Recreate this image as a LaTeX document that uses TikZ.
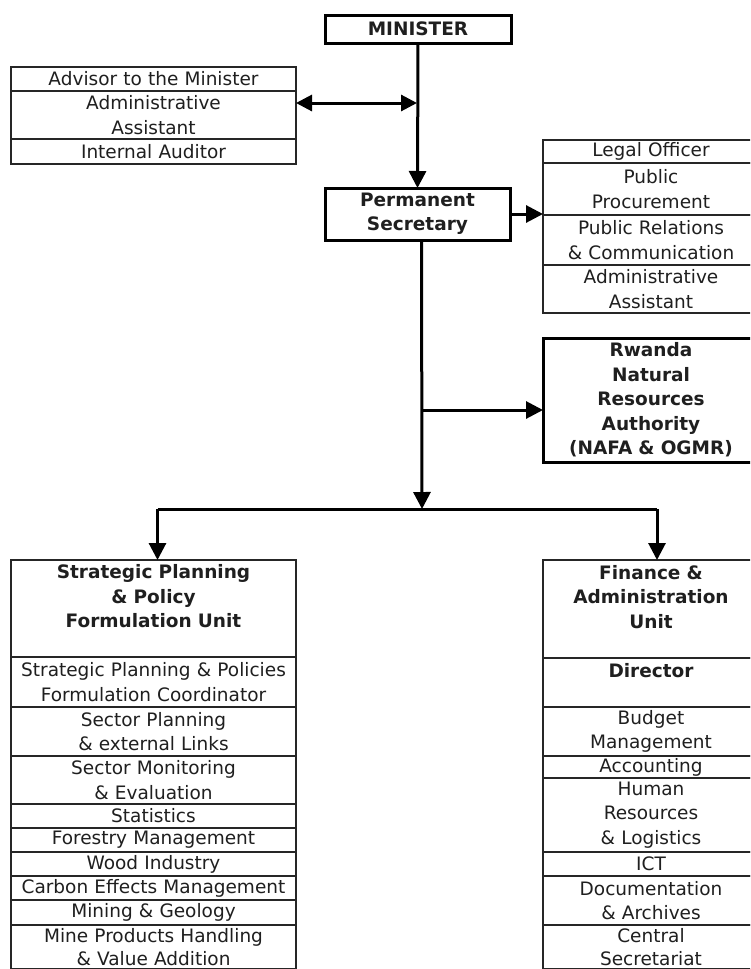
\documentclass[tikz,border=0pt]{standalone}
\usepackage{fontspec}
\setmainfont{DejaVu Sans}
\usetikzlibrary{arrows.meta}

% A box spanning x1..x2 and y1..y2 (pixel units, y downwards)
% args: style, name, x1, y1, x2, y2, text
\newcommand\orgcell[7]{%
  \node[#1, minimum width={(#5-#3)*1pt}, minimum height={(#6-#4)*1pt},
        text width={(#5-#3-4)*1pt}]
    (#2) at ({(#3+#5)/2},{(#4+#6)/2}) {#7};}

\tikzset{
  base/.style={inner sep=0pt, outer sep=0pt, align=center, text=black!88,
    font=\fontsize{18.5}{24.5}\selectfont},
  cell/.style={base, draw=black!85, line width=1.4pt},
  headcell/.style={cell, font=\fontsize{18.5}{24.5}\selectfont\bfseries},
  keybox/.style={base, draw=black, line width=3pt,
    font=\fontsize{18.5}{24.5}\selectfont\bfseries},
  conn/.style={draw=black, line width=3pt,
    -{Triangle[length=17pt,width=17pt]}},
  bothconn/.style={draw=black, line width=3pt,
    {Triangle[length=16pt,width=16pt]}-{Triangle[length=16pt,width=16pt]}},
}

\begin{document}
\begin{tikzpicture}[x=1pt,y=-1pt]
\useasboundingbox (0,0) rectangle (750,969);
% the two unit columns run on past the lower edge of the page
\clip (0,0) rectangle (750,968.2);
\fill[white] (0,0) rectangle (750,969);

% top of the hierarchy
\orgcell{keybox}{min}{325}{15}{511}{43}{MINISTER}
\orgcell{keybox}{ps}{325}{188}{510}{240}{Permanent\\Secretary}

% advisory staff of the minister
\orgcell{cell}{adv1}{11}{67}{296}{91}{Advisor to the Minister}
\orgcell{cell}{adv2}{11}{91}{296}{139}{Administrative\\Assistant}
\orgcell{cell}{adv3}{11}{139}{296}{164}{Internal Auditor}

% support offices of the permanent secretary
\orgcell{cell}{sup1}{543}{140}{759}{163}{Legal Officer}
\orgcell{cell}{sup2}{543}{163}{759}{215}{Public\\Procurement}
\orgcell{cell}{sup3}{543}{215}{759}{265}{Public Relations\\\& Communication}
\orgcell{cell}{sup4}{543}{265}{759}{313}{Administrative\\Assistant}

% affiliated agency
\orgcell{keybox}{rnra}{543}{338}{759}{462}{Rwanda\\Natural\\Resources\\Authority\\(NAFA \& OGMR)}

% strategic planning unit
\orgcell{headcell}{spu}{11}{560}{296}{657}{Strategic Planning\\\& Policy\\Formulation Unit\\\mbox{}}
\orgcell{cell}{spu1}{11}{657}{296}{707}{Strategic Planning \& Policies\\Formulation Coordinator}
\orgcell{cell}{spu2}{11}{707}{296}{756}{Sector Planning\\\& external Links}
\orgcell{cell}{spu3}{11}{756}{296}{804}{Sector Monitoring\\\& Evaluation}
\orgcell{cell}{spu4}{11}{804}{296}{828}{Statistics}
\orgcell{cell}{spu5}{11}{828}{296}{852}{Forestry Management}
\orgcell{cell}{spu6}{11}{852}{296}{876}{Wood Industry}
\orgcell{cell}{spu7}{11}{876}{296}{900}{Carbon Effects Management}
\orgcell{cell}{spu8}{11}{900}{296}{925}{Mining \& Geology}
\orgcell{cell}{spu9}{11}{925}{296}{969}{Mine Products Handling\\[-2pt]\& Value Addition}

% finance and administration unit
\orgcell{headcell}{fau}{543}{560}{759}{658}{Finance \&\\Administration\\Unit\\\mbox{}}
\orgcell{headcell}{fau1}{543}{658}{759}{707}{Director\\\mbox{}}
\orgcell{cell}{fau2}{543}{707}{759}{756}{Budget\\Management}
\orgcell{cell}{fau3}{543}{756}{759}{778}{Accounting}
\orgcell{cell}{fau4}{543}{778}{759}{852}{Human\\Resources\\\& Logistics}
\orgcell{cell}{fau5}{543}{852}{759}{876}{ICT}
\orgcell{cell}{fau6}{543}{876}{759}{925}{Documentation\\\& Archives}
\orgcell{cell}{fau7}{543}{925}{759}{969}{Central\\[-2pt]Secretariat}

% connectors
\coordinate (j1) at (417,103);
\coordinate (j2) at (422,410);
\coordinate (j3) at (422,509);

\draw[conn] (min.south) -- (ps.north);
\draw[bothconn] (adv2.east |- j1) -- (j1);
\draw[conn] (ps.east) -- (ps.east -| sup2.west);
\draw[conn] ([xshift=4pt]ps.south) -- (j3);
\draw[conn] (j2) -- (j2 -| rnra.west);
\draw[line width=3pt] ([xshift=4pt]spu.north |- j3) -- ([xshift=6pt]fau.north |- j3);
\draw[conn] ([xshift=4pt]spu.north |- j3) -- ([xshift=4pt]spu.north);
\draw[conn] ([xshift=6pt]fau.north |- j3) -- ([xshift=6pt]fau.north);
\end{tikzpicture}
\end{document}
